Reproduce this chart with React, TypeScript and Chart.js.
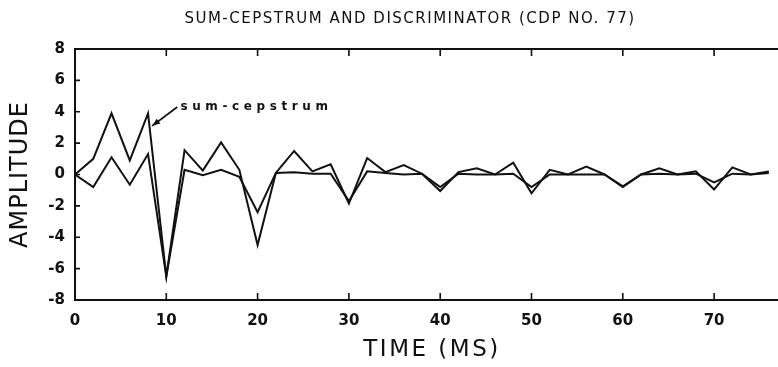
import React, { useEffect, useRef } from "react";
import { Chart, registerables } from "chart.js";

Chart.register(...registerables);

// ---- Text ----
const TITLE = "SUM-CEPSTRUM AND DISCRIMINATOR (CDP NO. 77)";
const X_TITLE = "TIME (MS)";
const Y_TITLE = "AMPLITUDE";
const ANNOTATION = "sum-cepstrum";

// ---- Data ----
const timeMs = [
  0, 2, 4, 6, 8, 10, 12, 14, 16, 18, 20, 22, 24, 26, 28, 30, 32, 34, 36, 38,
  40, 42, 44, 46, 48, 50, 52, 54, 56, 58, 60, 62, 64, 66, 68, 70, 72, 74, 76,
];

const sumCepstrum = [
  0, 1.0, 3.9, 0.9, 3.9, -6.5, 1.55, 0.25, 2.05, 0.3, -4.5, 0.1, 1.5, 0.2, 0.65,
  -1.85, 1.05, 0.15, 0.6, 0.05, -1.05, 0.15, 0.4, 0.0, 0.75, -1.2, 0.3, 0.0, 0.5,
  0.0, -0.8, 0.0, 0.4, 0.0, 0.2, -0.95, 0.45, 0.0, 0.2,
];

const discriminator = [
  0, -0.8, 1.1, -0.65, 1.3, -6.5, 0.3, -0.05, 0.3, -0.15, -2.4, 0.1, 0.15, 0.05,
  0.05, -1.7, 0.2, 0.1, 0.0, 0.05, -0.8, 0.05, 0.0, 0.0, 0.05, -0.8, 0.0, 0.0, 0.0,
  0.0, -0.75, 0.0, 0.05, 0.0, 0.05, -0.5, 0.05, 0.0, 0.1,
];

const xTicks = [0, 10, 20, 30, 40, 50, 60, 70];
const yTicks = [-8, -6, -4, -2, 0, 2, 4, 6, 8];

const X_MIN = 0;
const X_MAX = 77;
const Y_MIN = -8;
const Y_MAX = 8;

// annotation anchor (data units): arrow tip and label start
const annotTip = { x: 8.45, y: 3.1 };
const annotTail = { x: 11.2, y: 4.3 };
const annotText = { x: 11.55, y: 4.3 };

const INK = "#111111";
const FONT = "'DejaVu Sans', sans-serif";

const framePlugin = {
  id: "framePlugin",
  afterDraw(chart: any) {
    const { ctx, chartArea } = chart;
    const xs = chart.scales.x;
    const ys = chart.scales.y;
    const { left, right, top, bottom } = chartArea;
    ctx.save();
    ctx.strokeStyle = INK;
    ctx.fillStyle = INK;
    ctx.lineWidth = 2;
    ctx.lineCap = "butt";

    // frame: top, left, bottom
    ctx.beginPath();
    ctx.moveTo(right, top);
    ctx.lineTo(left, top);
    ctx.lineTo(left, bottom);
    ctx.lineTo(right, bottom);
    ctx.stroke();

    // inward tick marks
    ctx.lineWidth = 1.6;
    ctx.beginPath();
    xTicks.forEach((v) => {
      if (v === X_MIN) return;
      const px = xs.getPixelForValue(v);
      ctx.moveTo(px, bottom);
      ctx.lineTo(px, bottom - 7);
      ctx.moveTo(px, top);
      ctx.lineTo(px, top + 7);
    });
    yTicks.forEach((v) => {
      if (v === Y_MIN || v === Y_MAX) return;
      const py = ys.getPixelForValue(v);
      ctx.moveTo(left, py);
      ctx.lineTo(left + 5, py);
    });
    ctx.stroke();

    // title
    (ctx as any).letterSpacing = "1.5px";
    ctx.font = `15px ${FONT}`;
    ctx.textAlign = "center";
    ctx.textBaseline = "middle";
    ctx.fillText(TITLE, 410, 19);

    // x axis title
    (ctx as any).letterSpacing = "2.5px";
    ctx.font = `23px ${FONT}`;
    ctx.fillText(X_TITLE, 432, 350);

    // y axis title
    ctx.save();
    (ctx as any).letterSpacing = "1px";
    ctx.font = `24px ${FONT}`;
    ctx.translate(21, ys.getPixelForValue(0));
    ctx.rotate(-Math.PI / 2);
    ctx.fillText(Y_TITLE, 0, 0);
    ctx.restore();

    // annotation arrow
    const tx = xs.getPixelForValue(annotTip.x);
    const ty = ys.getPixelForValue(annotTip.y);
    const sx = xs.getPixelForValue(annotTail.x);
    const sy = ys.getPixelForValue(annotTail.y);
    ctx.lineWidth = 1.8;
    ctx.beginPath();
    ctx.moveTo(sx, sy);
    ctx.lineTo(tx, ty);
    ctx.stroke();
    const ang = Math.atan2(ty - sy, tx - sx);
    const len = 8;
    const half = 3;
    ctx.beginPath();
    ctx.moveTo(tx, ty);
    ctx.lineTo(
      tx - len * Math.cos(ang) + half * Math.sin(ang),
      ty - len * Math.sin(ang) - half * Math.cos(ang)
    );
    ctx.lineTo(
      tx - len * Math.cos(ang) - half * Math.sin(ang),
      ty - len * Math.sin(ang) + half * Math.cos(ang)
    );
    ctx.closePath();
    ctx.fill();

    // annotation text
    (ctx as any).letterSpacing = "4.6px";
    ctx.font = `bold 12px ${FONT}`;
    ctx.textAlign = "left";
    ctx.textBaseline = "middle";
    ctx.fillText(
      ANNOTATION,
      xs.getPixelForValue(annotText.x),
      ys.getPixelForValue(annotText.y)
    );
    (ctx as any).letterSpacing = "0px";
    ctx.restore();
  },
};

export default function App() {
  const canvasRef = useRef<HTMLCanvasElement | null>(null);

  useEffect(() => {
    const canvas = canvasRef.current;
    if (!canvas) return;
    const chart = new Chart(canvas, {
      type: "line",
      data: {
        datasets: [
          {
            label: "sum-cepstrum",
            data: timeMs.map((t, i) => ({ x: t, y: sumCepstrum[i] })),
            borderColor: INK,
            borderWidth: 2,
            pointRadius: 0,
            tension: 0,
            fill: false,
          },
          {
            label: "discriminator",
            data: timeMs.map((t, i) => ({ x: t, y: discriminator[i] })),
            borderColor: INK,
            borderWidth: 2,
            pointRadius: 0,
            tension: 0,
            fill: false,
          },
        ],
      },
      options: {
        responsive: true,
        maintainAspectRatio: false,
        animation: false,
        layout: { padding: { top: 49, left: 0, right: 0, bottom: 0 } },
        plugins: {
          legend: { display: false },
          tooltip: { enabled: false },
          title: { display: false },
        },
        scales: {
          x: {
            type: "linear",
            min: X_MIN,
            max: X_MAX,
            afterFit: (s: any) => {
              s.height = 67;
            },
            afterBuildTicks: (s: any) => {
              s.ticks = xTicks.map((v) => ({ value: v }));
            },
            ticks: {
              autoSkip: false,
              maxRotation: 0,
              padding: 12,
              color: INK,
              font: { family: FONT, size: 15, weight: "bold" },
            },
            grid: { display: false, drawTicks: false },
            border: { display: false },
          },
          y: {
            type: "linear",
            min: Y_MIN,
            max: Y_MAX,
            afterFit: (s: any) => {
              s.width = 75;
            },
            afterBuildTicks: (s: any) => {
              s.ticks = yTicks.map((v) => ({ value: v }));
            },
            ticks: {
              autoSkip: false,
              padding: 10,
              color: INK,
              font: { family: FONT, size: 15, weight: "bold" },
            },
            grid: { display: false, drawTicks: false },
            border: { display: false },
          },
        },
      },
      plugins: [framePlugin],
    });
    return () => chart.destroy();
  }, []);

  return (
    <div
      style={{
        position: "fixed",
        left: 0,
        top: 0,
        width: "778px",
        height: "367px",
        background: "#ffffff",
      }}
    >
      <canvas ref={canvasRef} />
    </div>
  );
}
